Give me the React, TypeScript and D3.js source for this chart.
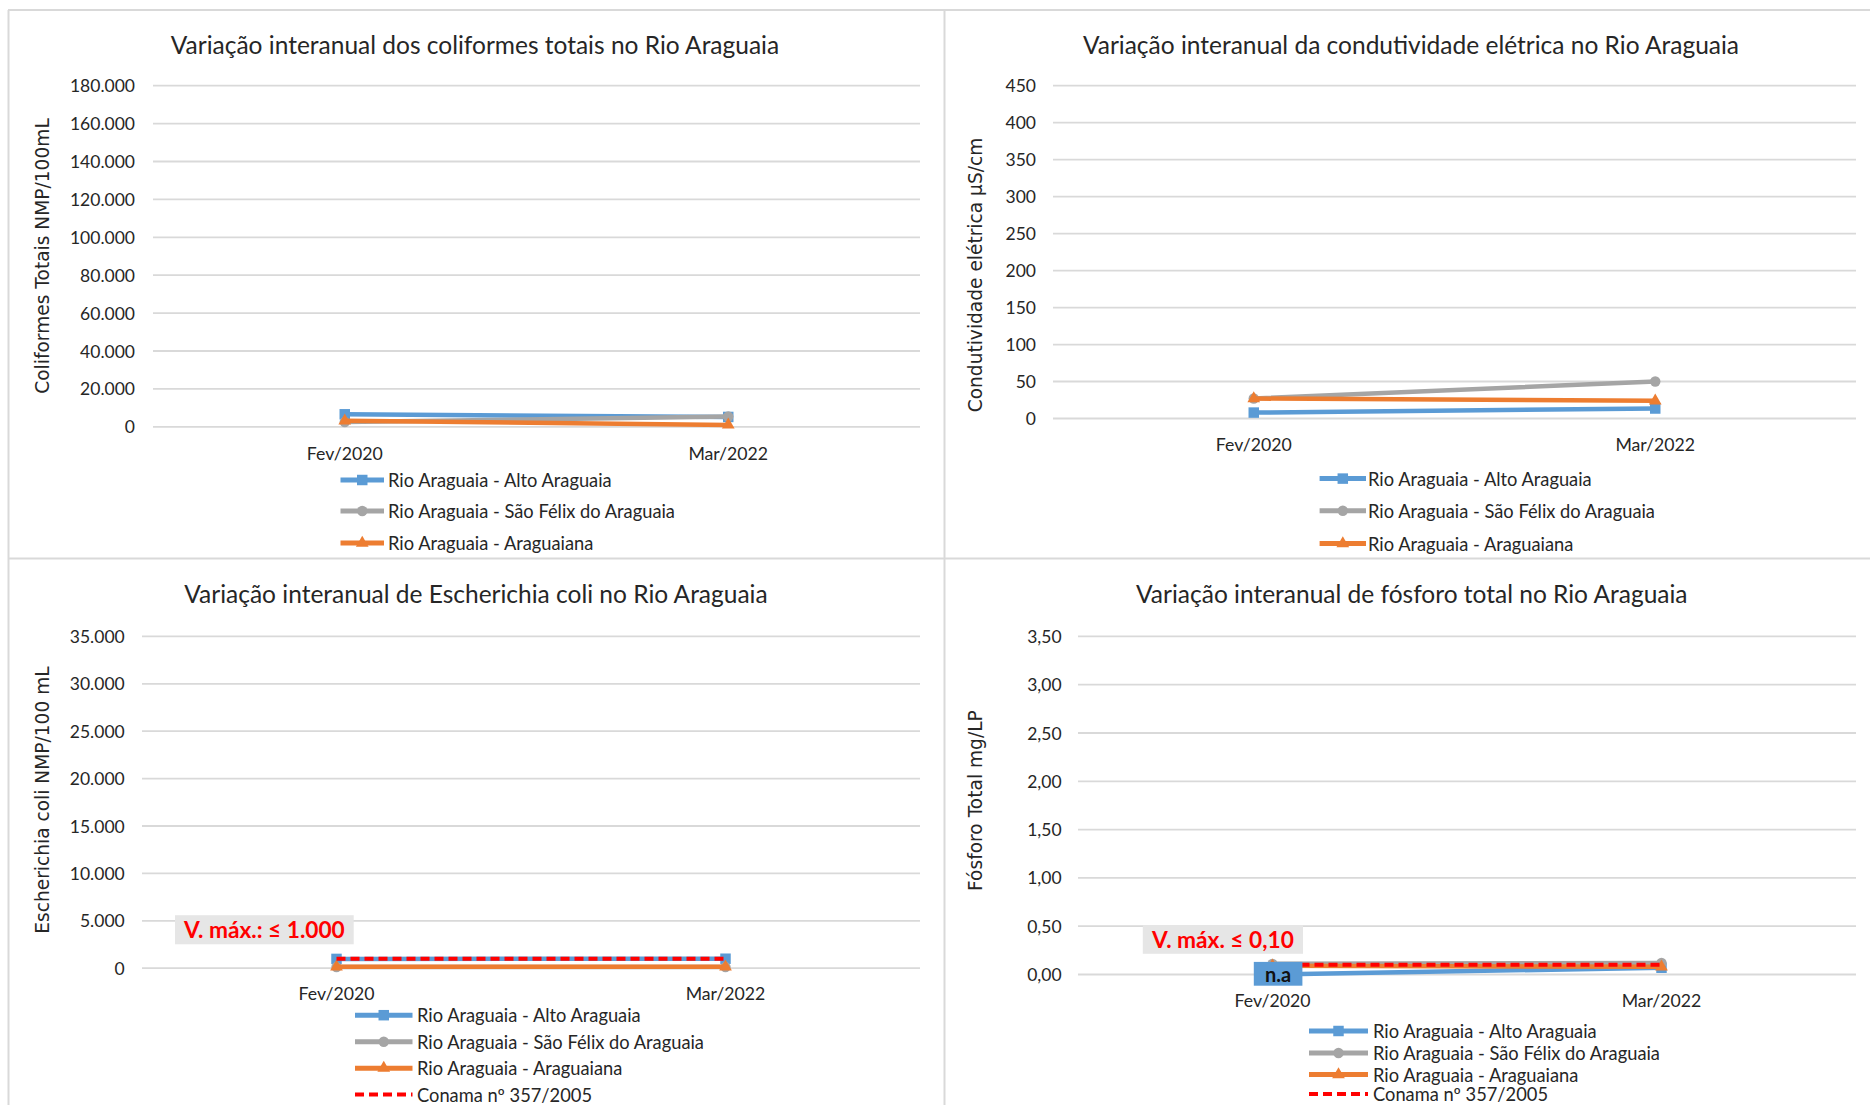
import React from "react";
import * as d3 from "d3";

// ---------- DATA ----------
const categories = ["Fev/2020", "Mar/2022"];
const seriesNames = [
  "Rio Araguaia - Alto Araguaia",
  "Rio Araguaia - São Félix do Araguaia",
  "Rio Araguaia - Araguaiana",
];
const conamaLabel = "Conama nº 357/2005";

const coliformesTitle = "Variação interanual dos coliformes totais no Rio Araguaia";
const coliformesAxisTitle = "Coliformes Totais NMP/100mL";
const coliformesTicks = [0, 20000, 40000, 60000, 80000, 100000, 120000, 140000, 160000, 180000];
const coliformesAlto = [6600, 5200];
const coliformesSaoFelix = [2500, 5400];
const coliformesAraguaiana = [3200, 1000];

const condutividadeTitle = "Variação interanual da condutividade elétrica no Rio Araguaia";
const condutividadeAxisTitle = "Condutividade elétrica µS/cm";
const condutividadeTicks = [0, 50, 100, 150, 200, 250, 300, 350, 400, 450];
const condutividadeAlto = [8, 13.5];
const condutividadeSaoFelix = [27, 50];
const condutividadeAraguaiana = [27, 24];

const ecoliTitle = "Variação interanual de Escherichia coli no Rio Araguaia";
const ecoliAxisTitle = "Escherichia coli NMP/100 mL";
const ecoliTicks = [0, 5000, 10000, 15000, 20000, 25000, 30000, 35000];
const ecoliAlto = [980, 1000];
const ecoliSaoFelix = [120, 120];
const ecoliAraguaiana = [150, 150];
const ecoliConama = [1000, 1000];
const ecoliNote = "V. máx.: ≤ 1.000";

const fosforoTitle = "Variação interanual de fósforo total no Rio Araguaia";
const fosforoAxisTitle = "Fósforo Total mg/LP";
const fosforoTicks = [0, 0.5, 1, 1.5, 2, 2.5, 3, 3.5];
const fosforoAlto = [0, 0.07];
const fosforoSaoFelix = [0.11, 0.12];
const fosforoAraguaiana = [0.09, 0.08];
const fosforoConama = [0.1, 0.1];
const fosforoNote = "V. máx. ≤ 0,10";
const fosforoNa = "n.a";

// ---------- STYLE ----------
const seriesColors = ["#5B9BD5", "#A5A5A5", "#ED7D31"];
const seriesMarkers = [d3.symbolSquare, d3.symbolCircle, d3.symbolTriangle];
const markerSizes = [110, 85, 70];
const conamaColor = "#FF0000";
const gridColor = "#D9D9D9";
const textColor = "#262626";
const FONT = "Lato, 'Open Sans', sans-serif";

const ptBR = d3.formatLocale({ decimal: ",", thousands: ".", grouping: [3], currency: ["R$", ""] });

type Layout = {
  x0: number; x1: number; yTop: number; yBottom: number;
  tickRight: number; titleX: number; titleY: number;
  yTitleX: number; yTitleY: number; catY: number;
  legendY: number[]; legLine: [number, number]; legText: number;
  note?: { x0: number; x1: number; y0: number; y1: number };
  na?: { x0: number; x1: number; y0: number; y1: number };
};

type PanelProps = {
  layout: Layout;
  title: string;
  axisTitle: string;
  ticks: number[];
  fmt: (n: number) => string;
  series: number[][];
  conama?: number[];
  note?: string;
  naText?: string;
};

function Marker({ i, x, y }: { i: number; x: number; y: number }) {
  const p = d3.symbol().type(seriesMarkers[i]).size(markerSizes[i])();
  return <path d={p || ""} transform={`translate(${x},${y})`} fill={seriesColors[i]} />;
}

function Panel({ layout: L, title, axisTitle, ticks, fmt, series, conama, note, naText }: PanelProps) {
  const x = d3.scaleBand<string>().domain(categories).range([L.x0, L.x1]);
  const cx = (c: string) => (x(c) as number) + x.bandwidth() / 2;
  const y = d3.scaleLinear().domain([0, d3.max(ticks) as number]).range([L.yBottom, L.yTop]);
  const line = d3.line<number>().x((_, i) => cx(categories[i])).y((d) => y(d));
  const legendItems = conama ? [...seriesNames, conamaLabel] : seriesNames;
  return (
    <g fontFamily={FONT} fill={textColor}>
      <text x={L.titleX} y={L.titleY} textAnchor="middle" dominantBaseline="central" fontSize={24.5}>
        {title}
      </text>
      {ticks.map((t) => (
        <g key={t}>
          <line x1={L.x0} x2={L.x1} y1={y(t)} y2={y(t)} stroke={gridColor} strokeWidth={1.8} />
          <text x={L.tickRight} y={y(t)} textAnchor="end" dominantBaseline="central" fontSize={17.5}>
            {fmt(t)}
          </text>
        </g>
      ))}
      <text
        transform={`translate(${L.yTitleX},${L.yTitleY}) rotate(-90)`}
        textAnchor="middle"
        dominantBaseline="central"
        fontSize={18.6}
        fontFamily="'DejaVu Sans', sans-serif"
      >
        {axisTitle}
      </text>
      {categories.map((c) => (
        <text key={c} x={cx(c)} y={L.catY} textAnchor="middle" dominantBaseline="central" fontSize={17.7}>
          {c}
        </text>
      ))}
      {series.map((s, i) => (
        <g key={i}>
          <path d={line(s) || ""} fill="none" stroke={seriesColors[i]} strokeWidth={4.5} strokeLinecap="round" />
          {s.map((v, j) => (
            <Marker key={j} i={i} x={cx(categories[j])} y={y(v)} />
          ))}
        </g>
      ))}
      {conama && (
        <path d={line(conama) || ""} fill="none" stroke={conamaColor} strokeWidth={4} strokeDasharray="9,5" />
      )}
      {note && L.note && (
        <g>
          <rect x={L.note.x0} y={L.note.y0} width={L.note.x1 - L.note.x0} height={L.note.y1 - L.note.y0} fill="#E6E6E6" />
          <text
            x={(L.note.x0 + L.note.x1) / 2}
            y={(L.note.y0 + L.note.y1) / 2}
            textAnchor="middle"
            dominantBaseline="central"
            fontSize={22.7}
            fontWeight="bold"
            fill={conamaColor}
          >
            {note}
          </text>
        </g>
      )}
      {naText && L.na && (
        <g>
          <rect x={L.na.x0} y={L.na.y0} width={L.na.x1 - L.na.x0} height={L.na.y1 - L.na.y0} fill="#5B9BD5" />
          <text
            x={(L.na.x0 + L.na.x1) / 2}
            y={(L.na.y0 + L.na.y1) / 2}
            textAnchor="middle"
            dominantBaseline="central"
            fontSize={20}
            fontWeight="bold"
            fill="#111"
          >
            {naText}
          </text>
        </g>
      )}
      {legendItems.map((name, i) => {
        const ly = L.legendY[i];
        const mid = (L.legLine[0] + L.legLine[1]) / 2;
        const isConama = i >= seriesNames.length;
        return (
          <g key={name}>
            {isConama ? (
              <line x1={L.legLine[0]} x2={L.legLine[1]} y1={ly} y2={ly} stroke={conamaColor} strokeWidth={4} strokeDasharray="9,5" />
            ) : (
              <>
                <line x1={L.legLine[0]} x2={L.legLine[1]} y1={ly} y2={ly} stroke={seriesColors[i]} strokeWidth={5} />
                <Marker i={i} x={mid} y={ly} />
              </>
            )}
            <text x={L.legText} y={ly} dominantBaseline="central" fontSize={18.3}>
              {name}
            </text>
          </g>
        );
      })}
    </g>
  );
}

const layout1: Layout = {
  x0: 153, x1: 920, yTop: 85.7, yBottom: 426.8, tickRight: 135, titleX: 475, titleY: 44.6,
  yTitleX: 42, yTitleY: 256, catY: 453, legendY: [480, 511, 543], legLine: [340.5, 384], legText: 388,
};
const layout2: Layout = {
  x0: 1053, x1: 1856, yTop: 85.7, yBottom: 418.5, tickRight: 1036, titleX: 1411, titleY: 44.6,
  yTitleX: 975.6, yTitleY: 275, catY: 444.6, legendY: [478.6, 510.7, 543.6], legLine: [1319.6, 1366], legText: 1368,
};
const layout3: Layout = {
  x0: 142, x1: 920, yTop: 636.4, yBottom: 968.2, tickRight: 124.7, titleX: 476, titleY: 593.6,
  yTitleX: 42, yTitleY: 800, catY: 993.4, legendY: [1015.2, 1041.8, 1068.2, 1094.5], legLine: [355, 412.5], legText: 417,
  note: { x0: 175, x1: 353.7, y0: 915.2, y1: 944.3 },
};
const layout4: Layout = {
  x0: 1078, x1: 1856, yTop: 636.4, yBottom: 974.5, tickRight: 1061.6, titleX: 1411.8, titleY: 593.6,
  yTitleX: 975.6, yTitleY: 800.6, catY: 1000.5, legendY: [1031, 1053, 1074.5, 1094], legLine: [1309, 1368], legText: 1373,
  note: { x0: 1142.8, x1: 1303, y0: 925, y1: 953.8 },
  na: { x0: 1253.8, x1: 1302.4, y0: 961.9, y1: 985.7 },
};

export default function App() {
  const fmtInt = ptBR.format(",.0f");
  const fmtDec = ptBR.format(",.2f");
  return (
    <div style={{ position: "absolute", left: 0, top: 0 }}>
      <svg width={1870} height={1105} style={{ display: "block", background: "#fff" }}>
        <rect x={0} y={0} width={1870} height={1105} fill="#fff" />
        <g stroke="#D9D9D9" strokeWidth={2}>
          <line x1={8} x2={1870} y1={10} y2={10} />
          <line x1={8.5} x2={8.5} y1={10} y2={1105} />
          <line x1={944.5} x2={944.5} y1={10} y2={1105} />
          <line x1={8} x2={1870} y1={558.5} y2={558.5} />
        </g>
        <Panel layout={layout1} title={coliformesTitle} axisTitle={coliformesAxisTitle} ticks={coliformesTicks}
          fmt={fmtInt} series={[coliformesAlto, coliformesSaoFelix, coliformesAraguaiana]} />
        <Panel layout={layout2} title={condutividadeTitle} axisTitle={condutividadeAxisTitle} ticks={condutividadeTicks}
          fmt={fmtInt} series={[condutividadeAlto, condutividadeSaoFelix, condutividadeAraguaiana]} />
        <Panel layout={layout3} title={ecoliTitle} axisTitle={ecoliAxisTitle} ticks={ecoliTicks}
          fmt={fmtInt} series={[ecoliAlto, ecoliSaoFelix, ecoliAraguaiana]} conama={ecoliConama} note={ecoliNote} />
        <Panel layout={layout4} title={fosforoTitle} axisTitle={fosforoAxisTitle} ticks={fosforoTicks}
          fmt={fmtDec} series={[fosforoAlto, fosforoSaoFelix, fosforoAraguaiana]} conama={fosforoConama}
          note={fosforoNote} naText={fosforoNa} />
      </svg>
    </div>
  );
}
